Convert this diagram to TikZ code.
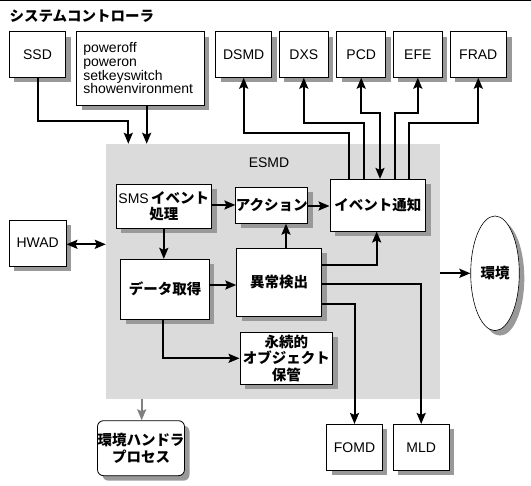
\documentclass[tikz,border=0pt]{standalone}
\usepackage{fontspec}
\setmainfont{Liberation Sans}
\newfontfamily\jp{Noto Sans CJK JP}
\usetikzlibrary{shadows,arrows.meta,shapes.geometric}
\begin{document}
\begin{tikzpicture}[x=1pt,y=-1pt,
  >={Stealth[length=11pt,width=9pt,inset=2pt]},
  lat/.style={font=\fontsize{14}{13.7}\selectfont},
  jpt/.style={font=\jp\bfseries\fontsize{14.5}{16.5}\selectfont},
  shad/.style={drop shadow={shadow xshift=5pt,shadow yshift=-5pt,fill=black!40,opacity=1}},
  box/.style={draw,line width=0.8pt,fill=white,inner sep=0pt,align=center,shad},
  region/.style={fill=black!14,inner sep=0pt},
  conn/.style={line width=2pt,->},
  gconn/.style={line width=2pt,->,draw=black!50,color=black!50},
]
\useasboundingbox (0,0) rectangle (531,486);
\draw[line width=1pt] (0,0.5) -- (531,0.5);
\node[jpt,anchor=west] (title) at (6,16) {システムコントローラ};

% ESMD region
\node[region,minimum width=334pt,minimum height=255pt] (esmd) at (273,271.5) {};
\node[lat] (esmdlabel) at (269,163) {ESMD};

% top boxes
\node[box,lat,minimum width=56.4pt,minimum height=45.6pt] (ssd) at (37.5,54.5) {SSD};
\node[box,lat,align=left,text width=114pt,inner xsep=6.6pt,minimum height=73.3pt] (cmd) at (140.3,68.3) {poweroff\\poweron\\setkeyswitch\\showenvironment};
\node[box,lat,minimum width=56pt,minimum height=45.6pt] (dsmd) at (243.7,54.5) {DSMD};
\node[box,lat,minimum width=49pt,minimum height=45.6pt] (dxs) at (303.8,54.5) {DXS};
\node[box,lat,minimum width=49pt,minimum height=45.6pt] (pcd) at (361.2,54.5) {PCD};
\node[box,lat,minimum width=49pt,minimum height=45.6pt] (efe) at (417.8,54.5) {EFE};
\node[box,lat,minimum width=56.7pt,minimum height=45.6pt] (frad) at (478.3,54.5) {FRAD};

% inner boxes
\node[box,jpt,minimum width=95.7pt,minimum height=44pt] (sms) at (163.8,206.3) {{\fontspec{Liberation Sans}\mdseries\fontsize{14}{16.5}\selectfont SMS}\,イベント\\処理};
\node[box,jpt,minimum width=70pt,minimum height=36pt] (action) at (271.7,205.3) {アクション};
\node[box,jpt,minimum width=95.7pt,minimum height=51.7pt] (event) at (377.8,205.2) {イベント通知};
\node[box,jpt,minimum width=85pt,minimum height=67.7pt] (anomaly) at (279.2,282.2) {異常検出};
\node[box,jpt,minimum width=88.6pt,minimum height=60pt] (data) at (165,289.3) {データ取得};
\node[box,jpt,minimum width=92.7pt,minimum height=52pt] (persist) at (286.3,358.3) {永続的\\オブジェクト\\保管};

% outer boxes
\node[box,lat,minimum width=56.7pt,minimum height=46pt] (hwad) at (37.7,243) {HWAD};
\node[box,jpt,ellipse,line width=0.6pt,minimum width=48.6pt,minimum height=114.6pt] (env) at (495,273.3) {環境};
\node[box,jpt,rounded corners=6pt,minimum width=84.6pt,minimum height=55pt] (handler) at (141,448.2) {環境ハンドラ\\プロセス};
\node[box,lat,minimum width=55.6pt,minimum height=45.7pt] (fomd) at (354.5,447.2) {FOMD};
\node[box,lat,minimum width=55.7pt,minimum height=45.7pt] (mld) at (421.2,447.2) {MLD};

% connectors
\draw[conn] (ssd.south) |- (128.3,120.7) -- (128.3,0 |- esmd.north);
\draw[conn] (146.7,0 |- cmd.south) -- (146.7,0 |- esmd.north);
\draw[conn] (349,0 |- event.north) |- (dsmd.south |- 0,132.7) -- (dsmd.south);
\draw[conn] (364,0 |- event.north) |- (dxs.south |- 0,122.7) -- (dxs.south);
\draw[conn,<->] (pcd.south) |- (380,112.7) -- (380,0 |- event.north);
\draw[conn] (395,0 |- event.north) |- (efe.south |- 0,112.7) -- (efe.south);
\draw[conn] (409.3,0 |- event.north) |- (frad.south |- 0,122.7) -- (frad.south);

\draw[conn] (sms.east |- 0,205) -- (action.west |- 0,205);
\draw[conn] (action.east |- 0,206) -- (event.west |- 0,206);
\draw[conn,<->] (hwad.east |- 0,244.3) -- (esmd.west |- 0,244.3);
\draw[conn] (sms.south) -- (sms.south |- data.north);
\draw[conn] (data.east |- 0,285) -- (anomaly.west |- 0,285);
\draw[conn] (286,0 |- anomaly.north) -- (286,0 |- action.south);
\draw[conn] (anomaly.east |- 0,265) -| (376.7,0 |- event.south);
\draw[conn] (esmd.east |- env.west) -- (env.west);
\draw[conn] (anomaly.east |- 0,284) -| (mld.north);
\draw[conn] (anomaly.east |- 0,304) -| (fomd.north);
\draw[conn] (163.3,0 |- data.south) |- (persist.west);
\draw[gconn] (141.7,0 |- esmd.south) -- (141.7,0 |- handler.north);
\end{tikzpicture}
\end{document}
